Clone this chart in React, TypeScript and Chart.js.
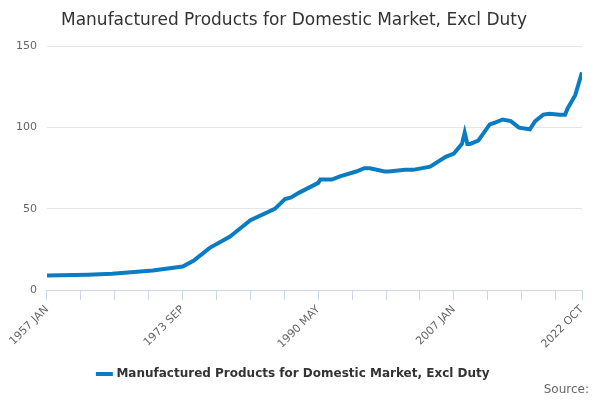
import React, { useEffect, useRef } from "react";
import { Chart, registerables } from "chart.js";
Chart.register(...registerables);

const monthIndex = [0, 60, 96, 156, 200, 216, 240, 270, 276, 300, 336, 351, 360, 372, 400, 403, 420, 432, 456, 468, 476, 498, 504, 528, 540, 565, 588, 600, 612, 616, 620, 624, 636, 653, 660, 672, 684, 696, 712, 720, 732, 741, 756, 764, 768, 779, 784, 789];
const values = [9, 9.5, 10, 12, 14.5, 18, 26, 33, 35, 43, 50, 56, 57, 60, 66, 68, 68, 70, 73, 75, 75, 73, 73, 74, 74, 76, 82, 84, 90, 97, 90, 90, 92, 102, 103, 105, 104, 100, 99, 104, 108, 108.5, 108, 108, 112, 120, 127, 134];
const labelMap: Record<number, string> = { 0: "1957 JAN", 200: "1973 SEP", 400: "1990 MAY", 600: "2007 JAN", 789: "2022 OCT" };
const seriesName = "Manufactured Products for Domestic Market, Excl Duty";
const FONT = "'DejaVu Sans', sans-serif";

export default function App() {
  const ref = useRef<HTMLCanvasElement>(null);
  useEffect(() => {
    const chart = new Chart(ref.current!, {
      type: "line",
      data: {
        datasets: [{
          label: seriesName,
          data: monthIndex.map((m, i) => ({ x: m, y: values[i] })),
          borderColor: "#0a7dc2",
          backgroundColor: "#0a7dc2",
          borderWidth: 4,
          pointRadius: 0,
          tension: 0,
        }],
      },
      options: {
        animation: false,
        responsive: false,
        layout: { padding: { left: 6, right: 18, top: 6, bottom: 10 } },
        plugins: {
          title: { display: true, text: "Manufactured Products for Domestic Market, Excl Duty", align: "center", color: "#333", font: { family: FONT, size: 17, weight: "normal" }, padding: { top: 4, bottom: 16 } },
          legend: {
            position: "bottom",
            labels: { color: "#333", font: { family: FONT, size: 12, weight: "bold" }, usePointStyle: true, pointStyle: "line", boxWidth: 20, padding: 14 },
          },
          tooltip: { enabled: false },
        },
        scales: {
          x: {
            type: "linear", min: 0, max: 789,
            afterBuildTicks: (s: any) => {
              const t = [];
              for (let v = 0; v < 789; v += 50) t.push({ value: v });
              t.push({ value: 789 });
              s.ticks = t;
            },
            ticks: { autoSkip: false, maxRotation: 45, minRotation: 45, color: "#666", font: { family: FONT, size: 11 }, callback: (v: any) => labelMap[v] ?? "" },
            grid: { drawOnChartArea: false, color: "#ccd6eb", tickLength: 10 },
            border: { color: "#ccd6eb" },
          },
          y: {
            min: 0, max: 150,
            ticks: { stepSize: 50, color: "#666", font: { family: FONT, size: 11 }, padding: 10 },
            grid: { color: "#e6e6e6", drawTicks: false },
            border: { display: false },
          },
        },
      },
    });
    return () => chart.destroy();
  }, []);
  return (
    <div style={{ position: "fixed", left: 0, top: 0, width: 600, height: 400, background: "#fff" }}>
      <canvas ref={ref} width={600} height={400} />
      <div style={{ position: "absolute", right: 11, bottom: 4, fontFamily: FONT, fontSize: 12, color: "#666" }}>Source:</div>
    </div>
  );
}
